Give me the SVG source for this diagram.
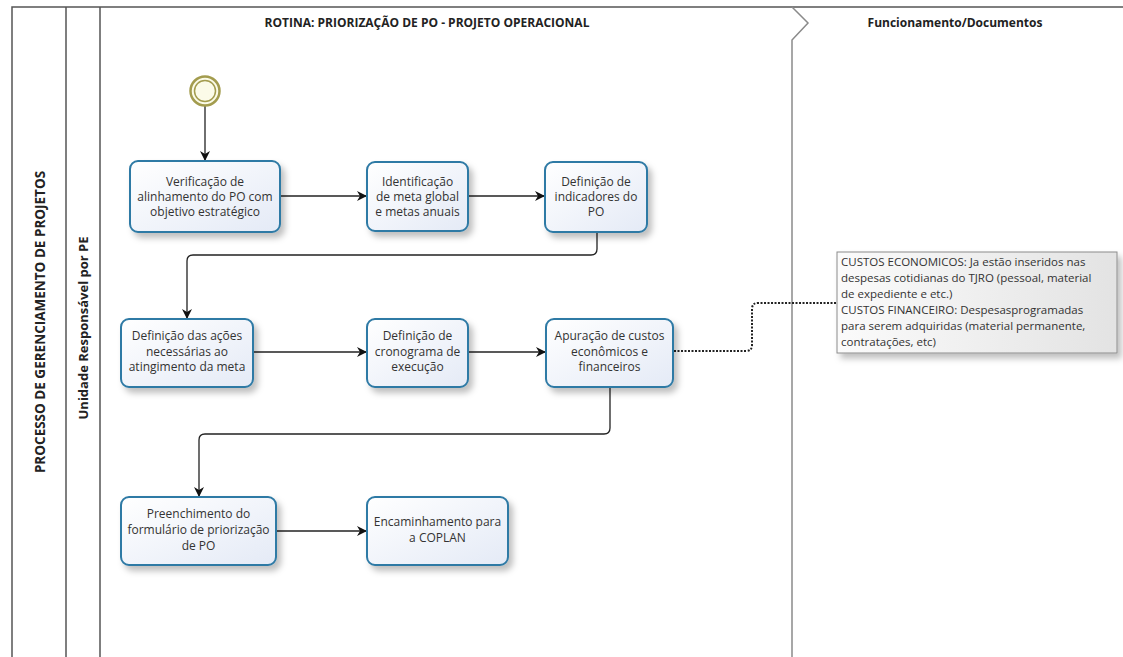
<svg xmlns="http://www.w3.org/2000/svg" width="1123" height="657" viewBox="0 0 1123 657">
<style>
.lane{fill:none;stroke:#555;stroke-width:1.5}
.lane2{fill:none;stroke:#8a8a8a;stroke-width:1.5}
.hdr{font-family:"Open Sans","Liberation Sans",sans-serif;font-weight:bold;font-size:12px;fill:#222;text-anchor:middle}
.vhdr{font-family:"Open Sans","Liberation Sans",sans-serif;font-weight:bold;font-size:13.5px;fill:#222;text-anchor:middle}
.task rect{fill:url(#tg);stroke:#2f7aa5;stroke-width:2}
.task text{font-family:"Open Sans","Liberation Sans",sans-serif;font-size:12px;fill:#333;text-anchor:middle}
.note text{font-family:"Open Sans","Liberation Sans",sans-serif;font-size:11.5px;fill:#333}
.flow{fill:none;stroke:#222;stroke-width:1.3}
.assoc{fill:none;stroke:#222;stroke-width:2;stroke-dasharray:2 1.5}
</style>
<defs>
<linearGradient id="tg" x1="0" y1="0" x2="1" y2="1">
<stop offset="0" stop-color="#ffffff"/>
<stop offset="1" stop-color="#e4eaf6"/>
</linearGradient>
<linearGradient id="ng" x1="0" y1="0" x2="1" y2="0">
<stop offset="0" stop-color="#fbfbfb"/>
<stop offset="1" stop-color="#e3e3e3"/>
</linearGradient>
<filter id="sh" x="-20%" y="-20%" width="150%" height="160%">
<feDropShadow dx="4" dy="5" stdDeviation="3" flood-color="#000" flood-opacity="0.25"/>
</filter>
<marker id="arr" markerUnits="userSpaceOnUse" markerWidth="10" markerHeight="10" refX="10" refY="5" orient="auto">
<path d="M0,0 L10,5 L0,10 L3,5 z" fill="#111"/>
</marker>
</defs>

<g id="pool">
<path class="lane" d="M12,657 V7 H1123"/>
<line class="lane" x1="66" y1="7" x2="66" y2="657"/>
<line class="lane" x1="100" y1="7" x2="100" y2="657"/>
<path class="lane2" d="M792,7 L808,23 L792,40 V657"/>
<text class="vhdr" transform="translate(45,322) rotate(-90)">PROCESSO DE GERENCIAMENTO DE PROJETOS</text>
<text class="vhdr" transform="translate(88,328) rotate(-90)" style="font-size:13px">Unidade Responsável por PE</text>
<text class="hdr" x="427" y="27">ROTINA: PRIORIZAÇÃO DE PO - PROJETO OPERACIONAL</text>
<text class="hdr" x="955" y="27">Funcionamento/Documentos</text>
</g>

<g id="connectors">
<line class="flow" x1="205" y1="106" x2="205" y2="161" marker-end="url(#arr)"/>
<line class="flow" x1="280" y1="196" x2="367" y2="196" marker-end="url(#arr)"/>
<line class="flow" x1="468" y1="196" x2="545" y2="196" marker-end="url(#arr)"/>
<path class="flow" d="M597,232 V249 Q597,255 591,255 H193 Q187,255 187,261 V319" marker-end="url(#arr)"/>
<line class="flow" x1="253" y1="352" x2="367" y2="352" marker-end="url(#arr)"/>
<line class="flow" x1="468" y1="352" x2="546" y2="352" marker-end="url(#arr)"/>
<path class="flow" d="M610,387 V428 Q610,434 604,434 H205 Q199,434 199,440 V497" marker-end="url(#arr)"/>
<line class="flow" x1="276" y1="531" x2="367" y2="531" marker-end="url(#arr)"/>
<path class="assoc" d="M674,351 H746 Q752,351 752,345 V309 Q752,303 758,303 H837"/>
</g>

<g id="start">
<circle cx="205" cy="91" r="14.5" fill="#fbfbe8" stroke="#a39c4e" stroke-width="2.5"/>
<circle cx="205" cy="91" r="10.5" fill="none" stroke="#a39c4e" stroke-width="1.5"/>
</g>

<g id="t1" class="task"><rect x="130" y="161" width="150" height="71" rx="8" filter="url(#sh)"/>
<text x="205" y="186">Verificação de</text><text x="205" y="201">alinhamento do PO com</text><text x="205" y="216">objetivo estratégico</text></g>

<g id="t2" class="task"><rect x="367" y="162" width="101" height="69" rx="8" filter="url(#sh)"/>
<text x="417.5" y="186">Identificação</text><text x="417.5" y="201">de meta global</text><text x="417.5" y="216">e metas anuais</text></g>

<g id="t3" class="task"><rect x="545" y="162" width="102" height="70" rx="8" filter="url(#sh)"/>
<text x="596" y="186">Definição de</text><text x="596" y="201">indicadores do</text><text x="596" y="216">PO</text></g>

<g id="t4" class="task"><rect x="121" y="319" width="132" height="68" rx="8" filter="url(#sh)"/>
<text x="187" y="340">Definição das ações</text><text x="187" y="356">necessárias ao</text><text x="187" y="371">atingimento da meta</text></g>

<g id="t5" class="task"><rect x="367" y="319" width="101" height="68" rx="8" filter="url(#sh)"/>
<text x="417.5" y="340">Definição de</text><text x="417.5" y="356">cronograma de</text><text x="417.5" y="371">execução</text></g>

<g id="t6" class="task"><rect x="546" y="319" width="127" height="68" rx="8" filter="url(#sh)"/>
<text x="609.5" y="340">Apuração de custos</text><text x="609.5" y="356">econômicos e</text><text x="609.5" y="371">financeiros</text></g>

<g id="t7" class="task"><rect x="121" y="497" width="155" height="68" rx="8" filter="url(#sh)"/>
<text x="198.5" y="518">Preenchimento do</text><text x="198.5" y="534">formulário de priorização</text><text x="198.5" y="550">de PO</text></g>

<g id="t8" class="task"><rect x="367" y="497" width="141" height="68" rx="8" filter="url(#sh)"/>
<text x="437.5" y="526">Encaminhamento para</text><text x="437.5" y="542">a COPLAN</text></g>

<g id="note" class="note">
<rect x="837" y="252" width="280" height="101" fill="url(#ng)" stroke="#8c8c8c" stroke-width="1" filter="url(#sh)"/>
<text x="841" y="266">CUSTOS ECONOMICOS: Ja estão inseridos nas</text>
<text x="841" y="282">despesas cotidianas do TJRO (pessoal, material</text>
<text x="841" y="298">de expediente e etc.)</text>
<text x="841" y="314">CUSTOS FINANCEIRO: Despesasprogramadas</text>
<text x="841" y="330">para serem adquiridas (material permanente,</text>
<text x="841" y="346">contratações, etc)</text>
</g>
</svg>
